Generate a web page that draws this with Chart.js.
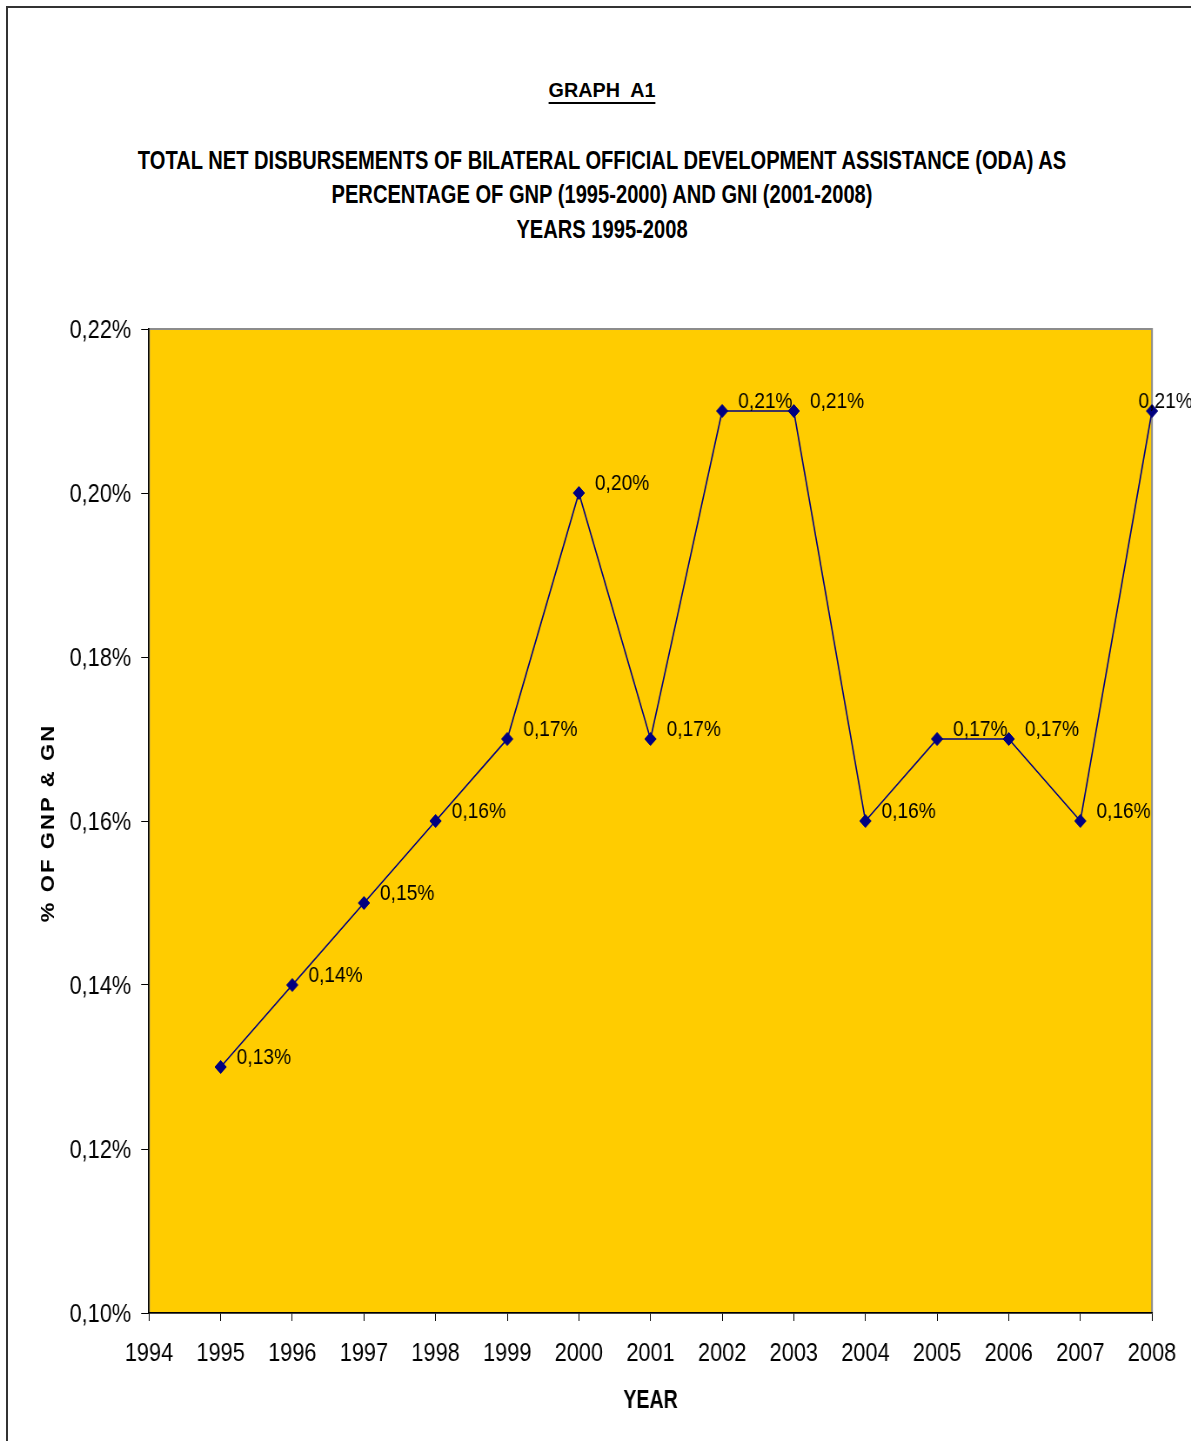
<!DOCTYPE html>
<html>
<head>
<meta charset="utf-8">
<script src="https://cdn.jsdelivr.net/npm/chart.js@4.4.1/dist/chart.umd.min.js"></script>
<style>
  html, body { margin: 0; padding: 0; background: #fff; }
  body { width: 1191px; height: 1441px; position: relative; overflow: hidden; }
  .frame { position: absolute; left: 6px; top: 6px; width: 1300px; height: 1500px;
           border-left: 2px solid #333; border-top: 2px solid #333; }
  .ttl { position: absolute; left: 0; width: 1204px; text-align: center;
         font-family: 'Liberation Sans', Arial, sans-serif;
         font-weight: bold; color: #000; white-space: nowrap; transform-origin: 602px 0; }
  .ttl.head { font-size: 21px; line-height: 21px; transform: scaleX(0.94);
              text-decoration: underline; text-decoration-thickness: 2px; text-underline-offset: 5px; }
  .ttl.sub { font-size: 25px; line-height: 25px; transform: scaleX(0.805); }
  /* the whole chart uses condensed lettering: draw wide, squeeze horizontally */
  canvas { position: absolute; left: 0; top: 0; transform: scaleX(0.87); transform-origin: 0 0; }
</style>
</head>
<body>
<div class="frame"></div>
<div class="ttl head" style="top:79px">GRAPH&nbsp; A1</div>
<div class="ttl sub" style="top:148px">TOTAL NET DISBURSEMENTS OF BILATERAL OFFICIAL DEVELOPMENT ASSISTANCE (ODA) AS</div>
<div class="ttl sub" style="top:182px">PERCENTAGE OF GNP (1995-2000) AND GNI (2001-2008)</div>
<div class="ttl sub" style="top:217px">YEARS 1995-2008</div>
<canvas id="oda" width="1369" height="1441"></canvas>
<script>
// ODA as % of GNP / GNI
var years = [1995, 1996, 1997, 1998, 1999, 2000, 2001, 2002, 2003, 2004, 2005, 2006, 2007, 2008];
var odaPct = [0.13, 0.14, 0.15, 0.16, 0.17, 0.20, 0.17, 0.21, 0.21, 0.16, 0.17, 0.17, 0.16, 0.21];
var yTicks = [0.10, 0.12, 0.14, 0.16, 0.18, 0.20, 0.22];
var xTitle = 'YEAR';
var yTitle = '% OF GNP & GN';

var SX = 0.87;                 // horizontal squeeze applied to the canvas
var FONT = '"Liberation Sans", Arial, sans-serif';

function pct(v) {
  return v.toFixed(2).replace('.', ',') + '%';
}

// yellow plot area with grey top/right edge
var plotBox = {
  id: 'plotBox',
  beforeDraw: function (chart) {
    var a = chart.chartArea, ctx = chart.ctx;
    ctx.save();
    ctx.fillStyle = '#FFCC00';
    ctx.fillRect(a.left, a.top, a.right - a.left, a.bottom - a.top);
    ctx.strokeStyle = '#8c8c8c';
    ctx.lineWidth = 2;
    ctx.strokeRect(a.left, a.top, a.right - a.left, a.bottom - a.top);
    ctx.restore();
  }
};

// value labels next to each point (kept inside the canvas at the right edge)
var pointLabels = {
  id: 'pointLabels',
  afterDatasetsDraw: function (chart) {
    var ctx = chart.ctx;
    var meta = chart.getDatasetMeta(0);
    ctx.save();
    ctx.font = '22px ' + FONT;
    ctx.fillStyle = '#000';
    ctx.textAlign = 'left';
    ctx.textBaseline = 'middle';
    meta.data.forEach(function (pt, i) {
      var txt = pct(odaPct[i]);
      var x = Math.min(pt.x + 18.5, chart.width - ctx.measureText(txt).width + 2);
      ctx.fillText(txt, x, pt.y - 9);
    });
    ctx.restore();
  }
};

// axis titles: narrow "YEAR" and letter-spaced vertical title
var axisTitles = {
  id: 'axisTitles',
  afterDraw: function (chart) {
    var a = chart.chartArea, ctx = chart.ctx;
    var cx = (a.left + a.right) / 2, cy = (a.top + a.bottom) / 2;
    ctx.save();
    ctx.fillStyle = '#000';
    ctx.textBaseline = 'middle';
    ctx.textAlign = 'center';
    ctx.font = 'bold 25px ' + FONT;
    ctx.save();
    ctx.translate(cx, 1401);
    ctx.scale(0.9, 1);
    ctx.fillText(xTitle, 0, 0);
    ctx.restore();

    ctx.font = 'bold 22px ' + FONT;
    ctx.textAlign = 'left';
    var gap = 2.1;
    var chars = yTitle.split('');
    var total = chars.reduce(function (s, c) { return s + ctx.measureText(c).width; }, 0) + gap * (chars.length - 1);
    ctx.translate(49 / SX, cy + 3);
    ctx.rotate(-Math.PI / 2);
    var x = -total / 2;
    chars.forEach(function (c) {
      ctx.fillText(c, x, 0);
      x += ctx.measureText(c).width + gap;
    });
    ctx.restore();
  }
};

var ctx = document.getElementById('oda').getContext('2d');
var chart = new Chart(ctx, {
  type: 'line',
  data: {
    datasets: [{
      label: 'ODA',
      data: years.map(function (y, i) { return { x: y, y: odaPct[i] }; }),
      borderColor: '#000080',
      borderWidth: 1.6,
      backgroundColor: '#000080',
      pointStyle: 'rectRot',
      pointRadius: 6.5,
      pointBorderWidth: 1,
      pointBorderColor: '#000080',
      pointBackgroundColor: '#000080',
      tension: 0,
      clip: false
    }]
  },
  options: {
    responsive: false,
    animation: false,
    devicePixelRatio: 1,
    layout: { padding: { top: 329, right: 1369 - 1152 / SX, left: 0, bottom: 0 } },
    plugins: {
      legend: { display: false },
      tooltip: { enabled: false }
    },
    scales: {
      x: {
        type: 'linear',
        min: 1994,
        max: 2008,
        afterFit: function (s) {
          s.height = 128;
          s.paddingLeft = 0;
          s.paddingRight = 0;
        },
        ticks: {
          stepSize: 1,
          padding: 18,
          color: '#000',
          maxRotation: 0,
          autoSkip: false,
          font: { family: FONT, size: 25 },
          callback: function (v) { return String(v); }
        },
        grid: { drawOnChartArea: false, drawTicks: true, tickLength: 8, color: '#000' },
        border: { display: true, color: '#000', width: 1.6 }
      },
      y: {
        min: 0.10,
        max: 0.22,
        afterFit: function (s) { s.width = 149 / SX; },
        afterBuildTicks: function (s) {
          s.ticks = yTicks.map(function (v) { return { value: v }; });
        },
        ticks: {
          padding: 11.5,
          labelOffset: 2,
          color: '#000',
          font: { family: FONT, size: 25 },
          callback: function (v) { return pct(v); }
        },
        grid: { drawOnChartArea: false, drawTicks: true, tickLength: 9, color: '#000' },
        border: { display: true, color: '#000', width: 1.6 }
      }
    }
  },
  plugins: [plotBox, pointLabels, axisTitles]
});
</script>
</body>
</html>
